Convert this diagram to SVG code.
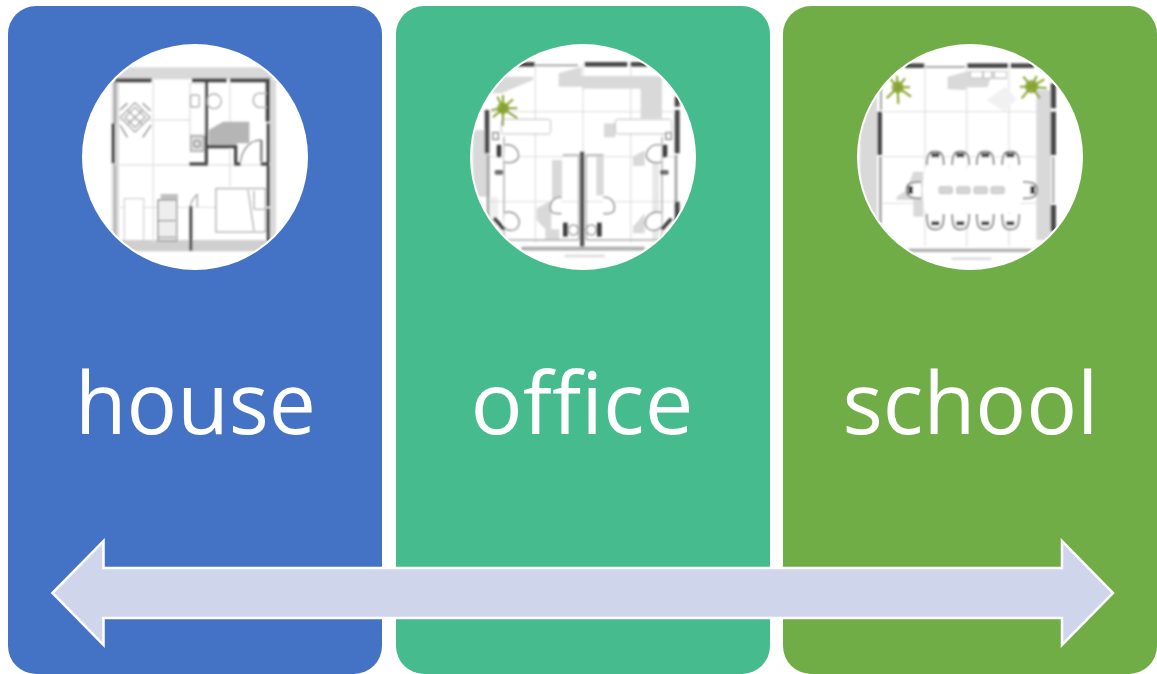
<svg xmlns="http://www.w3.org/2000/svg" width="1157" height="674" viewBox="0 0 1157 674">
<style>
.panel{stroke:none}
.disc{fill:#fff}
.label{font-family:"Open Sans","Noto Sans",sans-serif;font-size:86px;fill:#fff;text-anchor:middle}
.band{fill:#d9d9d9}
.pale{fill:#f1f1f1}
.grid{stroke:#e2e2e2;stroke-width:4;fill:none}
.wall{fill:#4a4a4a}
.line{stroke:#8c8c8c;stroke-width:4;fill:none}
.lite{stroke:#aaa;stroke-width:4;fill:none}
.plant{stroke:#86a32c;stroke-width:6;fill:none}
.leaf{fill:#7f9a2a}
.chair{fill:#fff;stroke:#999;stroke-width:5}
.seat{fill:#3d3d3d}
</style>
<defs>
<filter id="soft" x="-5%" y="-5%" width="110%" height="110%"><feGaussianBlur stdDeviation="2.8"/></filter>
<clipPath id="cut"><circle cx="375" cy="381" r="333"/></clipPath>
</defs>

<g id="house">
<rect class="panel" x="8" y="6" width="374" height="668" rx="28" fill="#4472c4"/>
<circle class="disc" cx="195" cy="157" r="113"/>
<g transform="translate(70,30) scale(.3333)" clip-path="url(#cut)">
<g filter="url(#soft)">
<rect class="band" x="130" y="112" width="480" height="36"/>
<rect class="band" x="125" y="150" width="22" height="490"/>
<rect class="band" x="600" y="150" width="18" height="490"/>
<rect x="140" y="630" width="450" height="34" fill="#cfcfcf"/>
<path class="grid" d="M250 150V640M480 150V470M150 270H360M150 405H590M150 532H590"/>
<rect class="wall" x="135" y="145" width="110" height="12"/>
<rect class="wall" x="366" y="145" width="104" height="12"/>
<rect class="wall" x="480" y="145" width="120" height="12"/>
<rect class="wall" x="587" y="150" width="13" height="125"/>
<rect class="wall" x="590" y="280" width="10" height="120"/>
<rect class="wall" x="590" y="405" width="10" height="125"/>
<rect class="wall" x="590" y="535" width="10" height="100"/>
<rect class="wall" x="125" y="280" width="10" height="120"/>
<rect x="132" y="150" width="6" height="130" fill="#999"/>
<rect x="132" y="405" width="6" height="230" fill="#aaa"/>
<rect class="wall" x="404" y="150" width="10" height="255"/>
<rect class="wall" x="358" y="397" width="56" height="10"/>
<rect class="wall" x="410" y="345" width="90" height="10"/>
<rect class="wall" x="492" y="345" width="10" height="60"/>
<rect class="wall" x="492" y="397" width="20" height="10"/>
<rect class="wall" x="572" y="397" width="26" height="10"/>
<rect class="wall" x="358" y="528" width="9" height="134"/>
<path d="M416 340V300L460 275H538V340H500V345H416Z" fill="#b5b5b5"/>
<path class="line" d="M512 395C515 360 540 330 572 330V395M576 330V395"/>
<rect x="360" y="160" width="44" height="155" fill="#fff" stroke="#d0d0d0" stroke-width="3"/>
<rect x="362" y="195" width="26" height="36" rx="6" class="lite"/>
<circle cx="432" cy="214" r="22" class="lite"/>
<path class="lite" d="M592 190H565C545 195 545 225 565 232H592"/>
<rect x="362" y="318" width="38" height="46" fill="#ddd" stroke="#888" stroke-width="3"/>
<circle cx="381" cy="341" r="10" class="line"/>
<path class="lite" d="M195 218L240 262L195 306L151 262Z"/>
<path class="lite" d="M195 232L226 262L195 292L165 262Z"/>
<path class="lite" d="M172 240L218 284M218 240L172 284"/>
<path class="line" d="M150 240L172 220M218 220L242 242M150 285L172 322M218 322L244 285"/>
<rect x="163" y="506" width="58" height="126" fill="#fff" stroke="#c4c4c4" stroke-width="3"/>
<rect x="272" y="492" width="52" height="16" fill="#c0c0c0"/>
<rect x="264" y="510" width="56" height="122" fill="#eee" stroke="#8d8d8d" stroke-width="4"/>
<path class="line" d="M264 572H316M264 622H316"/>
<rect x="438" y="476" width="148" height="130" fill="#fff" stroke="#8a8a8a" stroke-width="3"/>
<path class="lite" d="M534 480L552 602M552 538H584M552 482V538"/>
<path class="lite" d="M360 530C366 510 372 500 382 494V530"/>
</g></g>
<text class="label" x="195.500" y="434" textLength="241" lengthAdjust="spacingAndGlyphs">house</text>
</g>

<g id="office">
<rect class="panel" x="396" y="6" width="374" height="668" rx="28" fill="#45bb8e"/>
<circle class="disc" cx="583" cy="157" r="113"/>
<g transform="translate(458,30) scale(.3333)" clip-path="url(#cut)">
<g filter="url(#soft)">
<path class="grid" d="M232 100V640M375 100V370M518 100V640M90 245H660M90 380H660M90 515H660"/>
<path class="band" d="M302 170V130L370 110V138H612V265H548V176H374V170Z"/>
<path class="band" d="M110 140H225L225 150L130 190H100Z"/>
<path class="band" d="M44 300H96V500H44Z"/>
<path class="band" d="M96 500H120V590H96Z" opacity=".4"/>
<rect class="band" x="282" y="390" width="30" height="120"/>
<path class="band" d="M236 535L280 512V598H304V630H262V598L236 570Z"/>
<rect class="band" x="438" y="280" width="34" height="42"/>
<rect class="band" x="415" y="376" width="22" height="120"/>
<path class="band" d="M525 380L560 360V408H525Z"/>
<path class="band" d="M525 590L560 550V610H525Z"/>
<rect class="band" x="583" y="380" width="20" height="250" opacity=".6"/>
<rect x="180" y="96" width="50" height="14" class="wall"/>
<rect x="232" y="103" width="128" height="6" fill="#aaa"/>
<rect x="380" y="96" width="128" height="14" class="wall"/>
<rect x="518" y="96" width="50" height="14" class="wall"/>
<rect x="80" y="240" width="14" height="130" class="wall"/>
<rect x="86" y="375" width="8" height="200" fill="#a5a5a5"/>
<rect x="650" y="240" width="15" height="130" class="wall"/>
<rect x="650" y="375" width="8" height="140" fill="#a5a5a5"/>
<rect x="650" y="200" width="15" height="30" class="wall"/>
<rect x="650" y="515" width="15" height="60" class="wall"/>
<rect x="366" y="365" width="13" height="285" fill="#555"/>
<rect x="190" y="650" width="370" height="12" fill="#b0b0b0"/>
<rect x="320" y="674" width="120" height="8" fill="#ddd"/>
<rect x="130" y="268" width="148" height="44" rx="8" fill="#fff" stroke="#bbb" stroke-width="3"/>
<rect x="472" y="268" width="170" height="44" rx="8" fill="#fff" stroke="#bbb" stroke-width="3"/>
<path class="lite" d="M138 320V630H362M612 320V630H385"/>
<path class="lite" d="M314 375H362V630M436 375H385V630"/>
<rect x="105" y="308" width="16" height="20" class="chair" stroke-width="2"/>
<rect x="624" y="308" width="16" height="20" class="chair" stroke-width="2"/>
<rect x="116" y="344" width="14" height="38" rx="3" class="seat"/>
<path d="M140 345C175 340 185 370 180 385C170 400 150 400 138 395" class="chair"/>
<rect x="614" y="344" width="14" height="38" rx="3" class="seat"/>
<path d="M608 345C573 340 560 370 568 385C578 400 598 400 610 395" class="chair"/>
<rect x="110" y="420" width="26" height="14" rx="5" class="seat" opacity=".75"/>
<rect x="606" y="420" width="26" height="14" rx="5" class="seat" opacity=".75"/>
<path d="M310 502C280 500 272 530 280 545C290 552 300 552 310 550" class="chair"/>
<path d="M436 502C466 500 474 530 466 545C456 552 446 552 436 550" class="chair"/>
<path d="M140 548C175 540 190 570 180 590C170 605 150 605 135 590" class="chair"/>
<path d="M610 548C575 540 555 570 565 590C575 605 595 605 610 590" class="chair"/>
<path d="M108 564L138 598" stroke="#3d3d3d" stroke-width="11"/>
<path d="M640 566L612 598" stroke="#3d3d3d" stroke-width="11"/>
<rect x="315" y="578" width="14" height="42" class="seat"/>
<rect x="417" y="578" width="14" height="42" class="seat"/>
<circle cx="346" cy="600" r="15" class="chair" stroke-width="3"/>
<circle cx="400" cy="600" r="15" class="chair" stroke-width="3"/>
<circle cx="135" cy="235" r="18" class="leaf" opacity=".8"/>
<path class="plant" d="M135 235L118 200M135 235L165 208M135 235L100 240M135 235L135 288M135 235L178 265M135 235L178 235M135 235L105 262M135 235L135 195"/>
</g></g>
<text class="label" x="582" y="434" textLength="223" lengthAdjust="spacingAndGlyphs">office</text>
</g>

<g id="school">
<rect class="panel" x="783" y="6" width="374" height="668" rx="28" fill="#70ad47"/>
<circle class="disc" cx="970" cy="157" r="113"/>
<g transform="translate(845,30) scale(.3333)" clip-path="url(#cut)">
<g filter="url(#soft)">
<path class="grid" d="M240 100V650M365 100V650M492 100V650M110 245H620M110 380H620M110 520H620"/>
<path class="band" d="M44 180H96V600H44Z"/>
<rect class="band" x="574" y="180" width="44" height="450"/>
<path class="band" d="M308 178V140L368 124H486V148H435L428 172H365L360 180Z"/>
<path class="band" d="M155 500L185 480L205 425H235V560H205V510H155Z"/>
<path class="pale" d="M425 210L480 170L515 205L480 245Z"/>
<rect x="180" y="100" width="58" height="14" class="wall"/>
<rect x="242" y="108" width="118" height="6" fill="#aaa"/>
<rect x="367" y="100" width="122" height="14" class="wall"/>
<rect x="497" y="100" width="70" height="14" class="wall"/>
<rect x="97" y="245" width="14" height="130" class="wall"/>
<rect x="102" y="380" width="8" height="200" fill="#a5a5a5"/>
<rect x="105" y="170" width="6" height="70" fill="#a5a5a5"/>
<rect x="617" y="160" width="16" height="75" class="wall"/>
<rect x="617" y="245" width="16" height="130" class="wall"/>
<rect x="622" y="380" width="6" height="140" fill="#a5a5a5"/>
<rect x="617" y="525" width="16" height="80" class="wall"/>
<rect x="190" y="656" width="370" height="10" fill="#b0b0b0"/>
<rect x="320" y="682" width="120" height="8" fill="#ddd"/>
<rect x="376" y="124" width="36" height="20" fill="#fff" stroke="#aaa" stroke-width="2"/>
<rect x="415" y="124" width="24" height="20" fill="#fff" stroke="#aaa" stroke-width="2"/>
<rect x="448" y="124" width="36" height="20" fill="#fff" stroke="#aaa" stroke-width="2"/>
<path d="M246 405C246 375 252 365 270 365C290 365 296 375 296 405M322 405C322 375 328 365 346 365C366 365 372 375 372 405M396 405C396 375 402 365 420 365C440 365 446 375 446 405M472 405C472 375 478 365 496 365C516 365 522 375 522 405" fill="#fff" stroke="#777" stroke-width="5"/>
<path d="M246 552C246 590 252 598 270 598C290 598 296 590 296 552M322 552C322 590 328 598 346 598C366 598 372 590 372 552M396 552C396 590 402 598 420 598C440 598 446 590 446 552M472 552C472 590 478 598 496 598C516 598 522 590 522 552" fill="#fff" stroke="#777" stroke-width="5"/>
<path d="M228 456C195 456 185 462 185 480C185 498 195 505 228 505" fill="#fff" stroke="#777" stroke-width="5"/>
<path d="M534 456C567 456 576 462 576 480C576 498 567 505 534 505" fill="#fff" stroke="#777" stroke-width="5"/>
<rect x="259" y="370" width="24" height="12" class="seat"/><rect x="334" y="370" width="24" height="12" class="seat"/><rect x="409" y="370" width="24" height="12" class="seat"/><rect x="484" y="370" width="24" height="12" class="seat"/>
<rect x="259" y="574" width="24" height="12" class="seat"/><rect x="334" y="574" width="24" height="12" class="seat"/><rect x="409" y="574" width="24" height="12" class="seat"/><rect x="484" y="574" width="24" height="12" class="seat"/>
<rect x="190" y="468" width="14" height="24" class="seat"/><rect x="556" y="468" width="14" height="24" class="seat"/>
<path d="M240 414H520L530 480L522 546H240L232 480Z" fill="#fff"/>
<rect x="282" y="470" width="40" height="21" rx="5" fill="#d5d5d5" stroke="#aaa" stroke-width="2"/>
<rect x="335" y="470" width="40" height="21" rx="5" fill="#d5d5d5" stroke="#aaa" stroke-width="2"/>
<rect x="387" y="470" width="40" height="21" rx="5" fill="#d5d5d5" stroke="#aaa" stroke-width="2"/>
<rect x="438" y="470" width="40" height="21" rx="5" fill="#d5d5d5" stroke="#aaa" stroke-width="2"/>
<circle cx="158" cy="172" r="18" class="leaf" opacity=".8"/>
<path class="plant" d="M158 172L135 145M158 172L180 145M158 172L125 205M158 172L160 222M158 172L198 200M158 172L156 138M158 172L195 172"/>
<circle cx="560" cy="170" r="20" class="leaf" opacity=".8"/>
<path class="plant" d="M560 170L535 140M560 170L575 138M560 170L605 175M560 170L530 205M560 170L585 205M560 170L525 170M560 170L598 148"/>
</g></g>
<text class="label" x="970.500" y="434" textLength="256" lengthAdjust="spacingAndGlyphs">school</text>
</g>

<g id="connectors">
<path id="double-arrow" d="M52.500 593L103.500 541V568H1062V541L1113 593L1062 645V618H103.500V645Z" fill="#cfd5ea" stroke="#fff" stroke-width="2.500"/>
</g>
</svg>
